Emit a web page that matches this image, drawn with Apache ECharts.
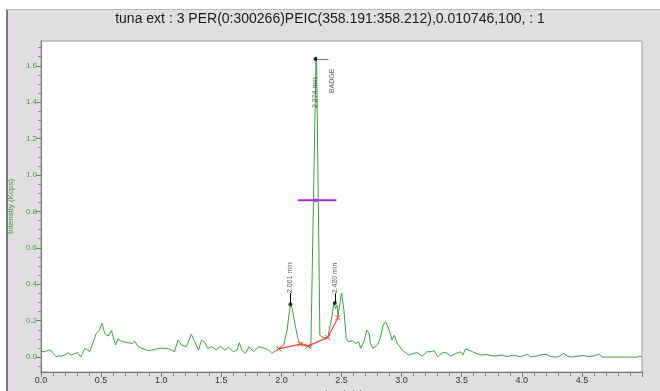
<!DOCTYPE html>
<html>
<head>
<meta charset="utf-8">
<script src="https://cdn.jsdelivr.net/npm/echarts@6/dist/echarts.min.js"></script>
<style>html,body{margin:0;padding:0;background:#fff}#c{width:660px;height:391px}</style>
</head>
<body>
<div id="c"></div>
<script>
// ---- data ----
const titleText = 'tuna ext : 3 PER(0:300266)PEIC(358.191:358.212),0.010746,100, : 1';
const times = [0.00,0.017,0.04,0.06,0.072,0.085,0.10,0.13,0.15,0.17,0.20,0.225,0.25,0.28,0.305,0.33,0.364,0.385,0.405,0.43,0.46,0.483,0.508,0.53,0.558,0.586,0.62,0.64,0.66,0.683,0.725,0.76,0.78,0.808,0.83,0.864,0.89,0.92,0.95,0.975,1.03,1.06,1.086,1.11,1.14,1.17,1.21,1.25,1.28,1.31,1.336,1.364,1.386,1.42,1.46,1.49,1.53,1.56,1.60,1.63,1.65,1.67,1.70,1.73,1.77,1.81,1.825,1.86,1.894,1.92,1.936,1.96,1.98,2.02,2.047,2.075,2.09,2.117,2.144,2.17,2.20,2.228,2.245,2.256,2.288,2.293,2.32,2.34,2.36,2.386,2.42,2.436,2.45,2.464,2.47,2.50,2.52,2.54,2.56,2.59,2.62,2.644,2.66,2.686,2.71,2.73,2.74,2.76,2.80,2.825,2.847,2.867,2.886,2.91,2.92,2.94,2.964,2.98,3.006,3.06,3.075,3.10,3.13,3.17,3.21,3.24,3.27,3.30,3.34,3.37,3.41,3.45,3.49,3.51,3.53,3.56,3.59,3.62,3.66,3.71,3.77,3.83,3.88,3.92,3.99,4.05,4.07,4.12,4.17,4.21,4.24,4.30,4.35,4.38,4.42,4.46,4.52,4.56,4.61,4.64,4.67,4.71,4.96,4.98,5.00];
const intensity = [0.035,0.029,0.03,0.04,0.048,0.035,0.02,0.0,0.008,0.005,0.012,0.024,0.01,0.02,0.024,0.0,0.048,0.04,0.03,0.075,0.13,0.145,0.185,0.13,0.115,0.145,0.066,0.10,0.09,0.084,0.079,0.075,0.088,0.057,0.05,0.042,0.036,0.038,0.042,0.048,0.048,0.045,0.038,0.029,0.093,0.066,0.057,0.125,0.084,0.038,0.093,0.079,0.048,0.057,0.038,0.06,0.038,0.053,0.029,0.038,0.079,0.038,0.02,0.057,0.029,0.057,0.066,0.048,0.038,0.02,0.02,0.038,0.048,0.066,0.148,0.29,0.267,0.166,0.084,0.075,0.066,0.057,0.05,0.06,1.65,1.62,0.12,0.11,0.105,0.11,0.22,0.295,0.267,0.285,0.22,0.353,0.258,0.10,0.084,0.09,0.075,0.084,0.048,0.084,0.148,0.13,0.075,0.048,0.066,0.11,0.176,0.194,0.166,0.12,0.093,0.12,0.075,0.066,0.038,0.011,0.002,0.02,0.024,0.005,0.029,0.029,0.035,0.002,0.024,0.024,0.005,0.02,0.029,0.01,0.045,0.038,0.029,0.02,0.011,0.014,0.005,0.011,0.002,0.011,0.002,0.016,0.002,0.005,0.014,0.014,0.002,0.0,0.02,0.005,0.0,0.005,0.008,0.002,0.008,0.016,0.0,0.0,0.0,0.005,0.0];
const baseTimes = [1.978,2.158,2.22,2.386,2.47];
const baseValues = [0.045,0.071,0.06,0.108,0.216];
const fwhmTimes = [2.139,2.458];
const fwhmLevel = 0.862;
const fwhmCenter = 2.285;
const peakTimes = [2.075,2.445,2.283];
const peakValues = [0.29,0.297,1.637];
const peakLabels = ['2.061 min','2.420 min','2.274 min'];
const peakLabelBottoms = [0.352,0.35,1.368];
const compoundName = 'BADGE';
const compoundPos = [2.425,1.45];
const yTicks = [0,0.2,0.4,0.6,0.8,1.0,1.2,1.4,1.6];
const yMinorTicks = [-0.05,0.05,0.1,0.15,0.25,0.3,0.35,0.45,0.5,0.55,0.65,0.7,0.75,0.85,0.9,0.95,1.05,1.1,1.15,1.25,1.3,1.35,1.45,1.5,1.55,1.65,1.7];

const FONT = 'Liberation Sans, Arial, sans-serif';
const green = '#3f9f3f';
const chart = echarts.init(document.getElementById('c'), null, {renderer:'canvas'});
const Y0 = -0.082, Y1 = 1.736;

const xPath = 'path://M0,0L10,10M10,0L0,10';

chart.setOption({
  animation:false,
  backgroundColor:'#e1dee1',
  textStyle:{fontFamily:FONT},
  title:{text:titleText,left:'center',top:7,textStyle:{fontSize:14,fontWeight:'normal',color:'#1a1a1a',fontFamily:FONT}},
  graphic:[
    {type:'rect',shape:{x:0,y:0,width:660,height:9},style:{fill:'#ffffff'},silent:true},
    {type:'rect',shape:{x:0,y:0,width:6,height:391},style:{fill:'#ffffff'},silent:true},
    {type:'line',shape:{x1:7,y1:9,x2:7,y2:391},style:{stroke:'#555',lineWidth:1.5},silent:true},
    {type:'line',shape:{x1:6,y1:9.5,x2:660,y2:9.5},style:{stroke:'#bbb',lineWidth:1},silent:true}
  ],
  grid:{left:41,right:18,top:41,bottom:19,outerBoundsMode:'none',containLabel:false,show:true,backgroundColor:'#ffffff',borderColor:'#9a9a9a',borderWidth:1},
  xAxis:{type:'value',min:0,max:5.0,interval:0.5,
    name:'Time (min)',nameLocation:'middle',nameGap:17,nameTextStyle:{fontSize:9,color:'#333'},
    axisLine:{show:true,onZero:false,lineStyle:{color:'#777',width:1}},
    axisTick:{show:true,length:5,lineStyle:{color:'#777'}},
    minorTick:{show:true,splitNumber:5,length:4,lineStyle:{color:'#888'}},
    axisLabel:{fontSize:9,color:'#333',margin:4,showMaxLabel:false,formatter:v=>v.toFixed(1)},
    splitLine:{show:false},minorSplitLine:{show:false}},
  yAxis:[
    {type:'value',min:Y0,max:Y1,
      name:'Intensity (Kcps)',nameLocation:'middle',nameGap:26,nameTextStyle:{fontSize:8,color:'#3a9a3a'},
      axisLine:{show:true,onZero:false,lineStyle:{color:'#777',width:1}},
      axisTick:{show:true,length:5,customValues:yTicks,lineStyle:{color:'#777'}},
      axisLabel:{fontSize:8,color:'#4d9c4d',margin:4,customValues:yTicks,formatter:v=>v.toFixed(1)},
      splitLine:{show:false}},
    {type:'value',min:Y0,max:Y1,position:'left',
      axisLine:{show:false},
      axisTick:{show:true,length:3,customValues:yMinorTicks,lineStyle:{color:'#888'}},
      axisLabel:{show:false},splitLine:{show:false}}
  ],
  series:[
    {type:'line',name:'XIC',data:times.map((t,i)=>[t,intensity[i]]),showSymbol:false,symbol:'none',
      lineStyle:{color:green,width:1},z:3},
    {type:'line',name:'baseline',data:baseTimes.map((t,i)=>[t,baseValues[i]]),symbol:xPath,symbolSize:5,showSymbol:true,
      itemStyle:{color:'rgba(0,0,0,0)',borderColor:'#ff4040',borderWidth:1},lineStyle:{color:'#ff4040',width:1.2},z:4},
    {type:'line',name:'fwhm',data:fwhmTimes.map(t=>[t,fwhmLevel]),symbol:'none',lineStyle:{color:'#a52ad8',width:2},z:5},
    {type:'scatter',name:'fwhmc',data:[[fwhmCenter,fwhmLevel]],symbol:'diamond',symbolSize:5,itemStyle:{color:'#a52ad8'},z:6},
    {type:'scatter',name:'apex',data:peakTimes.map((t,i)=>[t,peakValues[i]]),symbol:'circle',symbolSize:4,itemStyle:{color:'#000'},z:7,
      markLine:{silent:true,symbol:['none','none'],label:{show:false},animation:false,
        lineStyle:{color:'#000',width:1,type:'solid'},
        data:[
          [{coord:[peakTimes[0],peakValues[0]]},{coord:[peakTimes[0],peakLabelBottoms[0]]}],
          [{coord:[peakTimes[1],peakValues[1]]},{coord:[peakTimes[1],peakLabelBottoms[1]]}],
          [{coord:[peakTimes[2]+0.015,peakValues[2]],lineStyle:{color:'#777',width:1,type:'solid'}},{coord:[peakTimes[2]+0.11,peakValues[2]]}]
        ]}},
    {type:'scatter',name:'labels',symbolSize:0,z:8,
      data:peakTimes.map((t,i)=>({value:[t,peakLabelBottoms[i]],name:peakLabels[i]})).concat([{value:compoundPos,name:compoundName}]),
      label:{show:true,formatter:'{b}',rotate:90,position:[0,0],align:'left',verticalAlign:'middle',fontSize:7,color:'#333',fontFamily:FONT}}
  ]
});
</script>
</body>
</html>
